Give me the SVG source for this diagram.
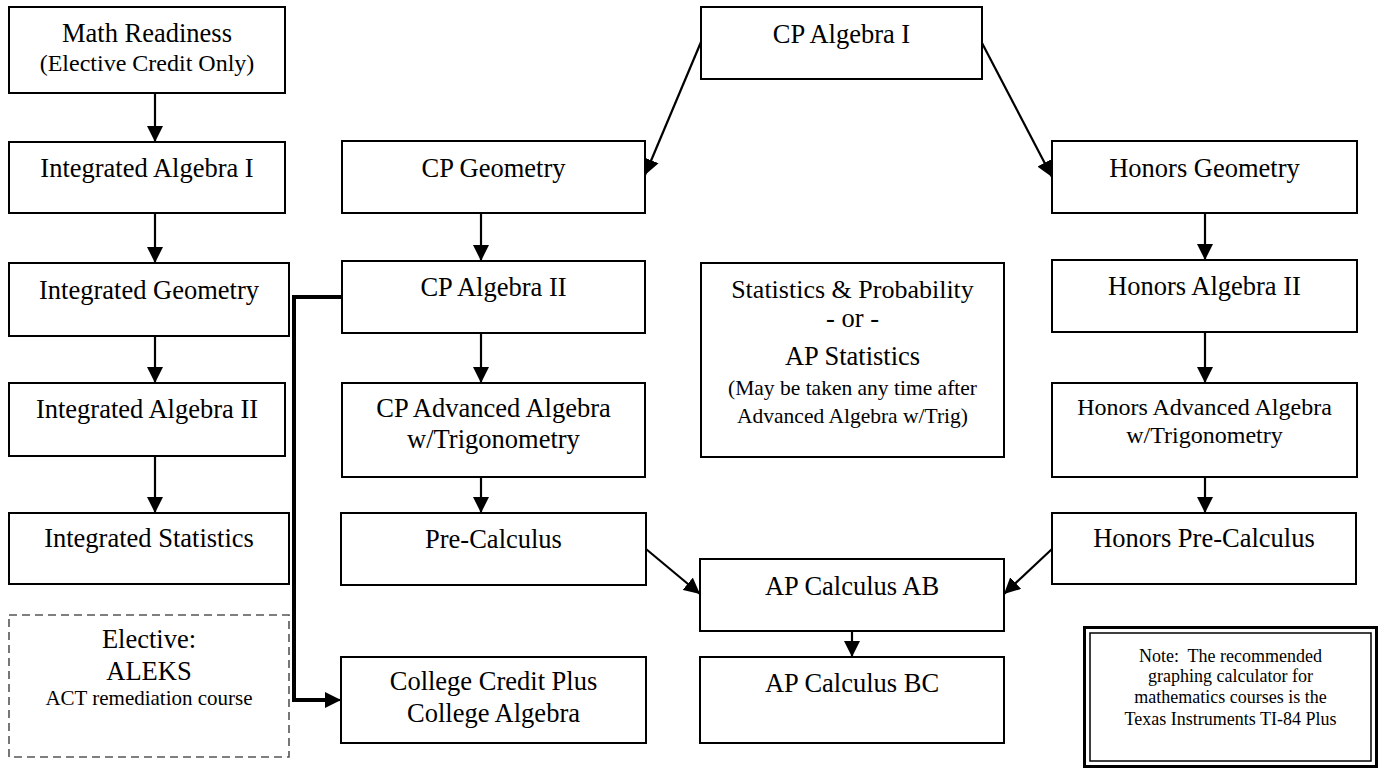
<svg xmlns="http://www.w3.org/2000/svg" width="1384" height="771" viewBox="0 0 1384 771">
<style>
.box{fill:#fff;stroke:#000;stroke-width:2}
.dash{fill:#fff;stroke:#555;stroke-width:1.6;stroke-dasharray:8 5}
text{font-family:"Liberation Serif","Times New Roman",serif;fill:#000;text-anchor:middle}
.t{font-size:26.5px}
.s24{font-size:24px}
.s21{font-size:21.5px}
.s18{font-size:18px}
.c{stroke:#000;stroke-width:2.2;fill:none}
.thick{stroke:#000;stroke-width:4;fill:none}
</style>
<defs>
<marker id="ah" markerUnits="userSpaceOnUse" markerWidth="17" markerHeight="16" refX="16" refY="8" orient="auto">
<path d="M0,0 L16,8 L0,16 Z" fill="#000"/>
</marker>
</defs>
<rect width="1384" height="771" fill="#fff"/>

<g id="connectors">
<line class="c" x1="155" y1="93" x2="155" y2="142" marker-end="url(#ah)"/>
<line class="c" x1="155" y1="213" x2="155" y2="263" marker-end="url(#ah)"/>
<line class="c" x1="155" y1="336" x2="155" y2="383" marker-end="url(#ah)"/>
<line class="c" x1="155" y1="456" x2="155" y2="513" marker-end="url(#ah)"/>
<line class="c" x1="701" y1="42" x2="645" y2="175" marker-end="url(#ah)"/>
<line class="c" x1="982" y1="43" x2="1052" y2="177" marker-end="url(#ah)"/>
<line class="c" x1="481" y1="213" x2="481" y2="261" marker-end="url(#ah)"/>
<line class="c" x1="481" y1="333" x2="481" y2="383" marker-end="url(#ah)"/>
<line class="c" x1="481" y1="477" x2="481" y2="513" marker-end="url(#ah)"/>
<line class="c" x1="1205" y1="213" x2="1205" y2="260" marker-end="url(#ah)"/>
<line class="c" x1="1205" y1="332" x2="1205" y2="383" marker-end="url(#ah)"/>
<line class="c" x1="1205" y1="477" x2="1205" y2="513" marker-end="url(#ah)"/>
<line class="c" x1="646" y1="549" x2="700" y2="594" marker-end="url(#ah)"/>
<line class="c" x1="1052" y1="549" x2="1004" y2="594" marker-end="url(#ah)"/>
<line class="c" x1="852" y1="631" x2="852" y2="657" marker-end="url(#ah)"/>
<polyline class="thick" points="342,297 294,297 294,700 327,700"/>
<line class="c" x1="320" y1="700" x2="341" y2="700" marker-end="url(#ah)"/>
</g>

<g id="math-readiness">
<rect class="box" x="9" y="7" width="276" height="86"/>
<text class="t" x="147" y="42">Math Readiness</text>
<text class="s24" x="147" y="71">(Elective Credit Only)</text>
</g>
<g id="integrated-algebra-1">
<rect class="box" x="9" y="142" width="276" height="71"/>
<text class="t" x="147" y="177">Integrated Algebra I</text>
</g>
<g id="integrated-geometry">
<rect class="box" x="9" y="263" width="280" height="73"/>
<text class="t" x="149" y="299">Integrated Geometry</text>
</g>
<g id="integrated-algebra-2">
<rect class="box" x="9" y="383" width="276" height="73"/>
<text class="t" x="147" y="418">Integrated Algebra II</text>
</g>
<g id="integrated-statistics">
<rect class="box" x="9" y="513" width="280" height="71"/>
<text class="t" x="149" y="547">Integrated Statistics</text>
</g>
<g id="elective-aleks">
<rect class="dash" x="9" y="615" width="280" height="142"/>
<text class="t" x="149" y="648">Elective:</text>
<text class="t" x="149" y="680">ALEKS</text>
<text class="s21" x="149" y="705" style="font-size:21px">ACT remediation course</text>
</g>

<g id="cp-algebra-1">
<rect class="box" x="701" y="7" width="281" height="72"/>
<text class="t" x="841.5" y="43">CP Algebra I</text>
</g>
<g id="cp-geometry">
<rect class="box" x="342" y="141" width="303" height="72"/>
<text class="t" x="493.5" y="177">CP Geometry</text>
</g>
<g id="cp-algebra-2">
<rect class="box" x="342" y="261" width="303" height="72"/>
<text class="t" x="493.5" y="296">CP Algebra II</text>
</g>
<g id="cp-advanced-algebra">
<rect class="box" x="342" y="383" width="303" height="94"/>
<text class="t" x="493.5" y="417">CP Advanced Algebra</text>
<text class="t" x="493.5" y="448">w/Trigonometry</text>
</g>
<g id="pre-calculus">
<rect class="box" x="341" y="513" width="305" height="72"/>
<text class="t" x="493.5" y="548">Pre-Calculus</text>
</g>
<g id="college-credit-plus">
<rect class="box" x="341" y="657" width="305" height="86"/>
<text class="t" x="493.5" y="690">College Credit Plus</text>
<text class="t" x="493.5" y="722">College Algebra</text>
</g>

<g id="statistics">
<rect class="box" x="701" y="263" width="303" height="194"/>
<text class="t" x="852.5" y="298" style="font-size:26px">Statistics &amp; Probability</text>
<text class="t" x="852.5" y="327">- or -</text>
<text class="t" x="852.5" y="365">AP Statistics</text>
<text class="s21" x="852.5" y="395">(May be taken any time after</text>
<text class="s21" x="852.5" y="423">Advanced Algebra w/Trig)</text>
</g>
<g id="ap-calculus-ab">
<rect class="box" x="700" y="559" width="304" height="72"/>
<text class="t" x="852" y="595">AP Calculus AB</text>
</g>
<g id="ap-calculus-bc">
<rect class="box" x="700" y="657" width="304" height="86"/>
<text class="t" x="852" y="692">AP Calculus BC</text>
</g>

<g id="honors-geometry">
<rect class="box" x="1052" y="141" width="305" height="72"/>
<text class="t" x="1204.5" y="177">Honors Geometry</text>
</g>
<g id="honors-algebra-2">
<rect class="box" x="1052" y="260" width="305" height="72"/>
<text class="t" x="1204.5" y="295">Honors Algebra II</text>
</g>
<g id="honors-advanced-algebra">
<rect class="box" x="1052" y="383" width="305" height="94"/>
<text class="s24" x="1204.5" y="415">Honors Advanced Algebra</text>
<text class="s24" x="1204.5" y="443">w/Trigonometry</text>
</g>
<g id="honors-pre-calculus">
<rect class="box" x="1052" y="513" width="304" height="71"/>
<text class="t" x="1204" y="547">Honors Pre-Calculus</text>
</g>

<g id="note">
<rect x="1084.5" y="627.5" width="292" height="139" fill="#fff" stroke="#000" stroke-width="3"/>
<rect x="1090" y="633" width="281" height="128" fill="none" stroke="#000" stroke-width="1.5"/>
<text class="s18" x="1230.5" y="662" xml:space="preserve">Note:  The recommended</text>
<text class="s18" x="1230.5" y="682">graphing calculator for</text>
<text class="s18" x="1230.5" y="703">mathematics courses is the</text>
<text class="s18" x="1230.5" y="725">Texas Instruments TI-84 Plus</text>
</g>
</svg>
